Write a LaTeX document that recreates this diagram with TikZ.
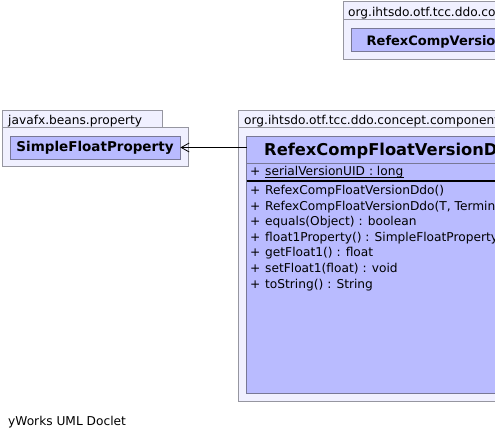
\documentclass[tikz,border=0pt]{standalone}
\usepackage{fontspec}
\setmainfont{DejaVu Sans}
\usetikzlibrary{arrows.meta}
\definecolor{pkgfill}{RGB}{240,240,255}
\definecolor{pkgline}{RGB}{150,150,160}
\definecolor{clsfill}{RGB}{185,187,255}
\definecolor{clsline}{RGB}{120,120,150}
\tikzset{
  pkg/.style={draw=pkgline, fill=pkgfill, line width=0.8pt},
  cls/.style={draw=clsline, fill=clsfill, line width=0.8pt},
  lbl/.style={anchor=base west, inner sep=0pt, font=\fontsize{12.2}{14}\selectfont},
  mem/.style={anchor=base west, inner sep=0pt, font=\fontsize{12.2}{14}\selectfont},
  clsname/.style={inner sep=0pt, font=\fontsize{13.5}{16}\selectfont\bfseries},
}
\begin{document}
\begin{tikzpicture}[x=1pt,y=-1pt]
\useasboundingbox (0,0) rectangle (495,439);
\clip (0,0) rectangle (495,439);
% top package
\draw[pkg] (343.5,1.5) rectangle (520,19);
\node[lbl] (toplbl) at (348,16.5) {org.ihtsdo.otf.tcc.ddo.concept};
\draw[pkg] (343.5,19) rectangle (520,59.5);
\draw[cls] (351.5,28.5) rectangle (520,51.5);
\node[clsname, anchor=base west, font=\fontsize{13}{15}\selectfont\bfseries] (topcls) at (366.5,45) {RefexCompVersionDdo};
% left package
\draw[pkg] (2.5,110.5) rectangle (162,127.5);
\node[lbl] (leftlbl) at (8,124) {javafx.beans.property};
\draw[pkg] (2.5,127.5) rectangle (188,166.5);
\node[cls, minimum width=170pt, minimum height=23pt, inner sep=0pt] (sfp) at (95,147.5) {};
\node[clsname] (sfptxt) at (sfp.center) {SimpleFloatProperty};
% main package
\draw[pkg] (238.5,110.5) rectangle (520,127.5);
\node[lbl] (mainlbl) at (244,124) {org.ihtsdo.otf.tcc.ddo.concept.component};
\draw[pkg] (238.5,127.5) rectangle (520,401.5);
\draw[cls] (246.5,136.5) rectangle (530,393.5);
\coordinate (mainL) at (246.5,147.5);
\node[anchor=base west, inner sep=0pt, font=\fontsize{16.3}{19}\selectfont\bfseries] (title) at (264,155) {RefexCompFloatVersionDdo};
\draw[clsline, line width=0.8pt] (246.5,163.5) -- (530,163.5);
\node[mem] (p0) at (250,175.7) {+};
\node[mem] (a0) at (265,175.7) {serialVersionUID : long};
\draw[black, line width=0.6pt] (265,177.7) -- (a0.east |- 0,177.7);
\draw[black, line width=1.8pt] (246.5,180.7) -- (530,180.7);
\foreach \y/\t in {194.3/RefexCompFloatVersionDdo(),
                   210/{RefexCompFloatVersionDdo(T, Terminology)},
                   225.7/equals(Object) : boolean,
                   241.7/float1Property() : SimpleFloatProperty,
                   256.9/getFloat1() : float,
                   272.7/setFloat1(float) : void,
                   288.5/toString() : String}{
  \node[mem] at (250,\y) {+};
  \node[mem] at (265,\y) {\t};
}
% arrow
\draw[-{Straight Barb[length=8pt,width=9pt,line width=0.8pt]}, line width=0.9pt] (mainL) -- (sfp.east);
% footer
\node[anchor=base west, inner sep=0pt, font=\fontsize{12.2}{14}\selectfont] (footer) at (8,425) {yWorks UML Doclet};
\end{tikzpicture}
\end{document}
